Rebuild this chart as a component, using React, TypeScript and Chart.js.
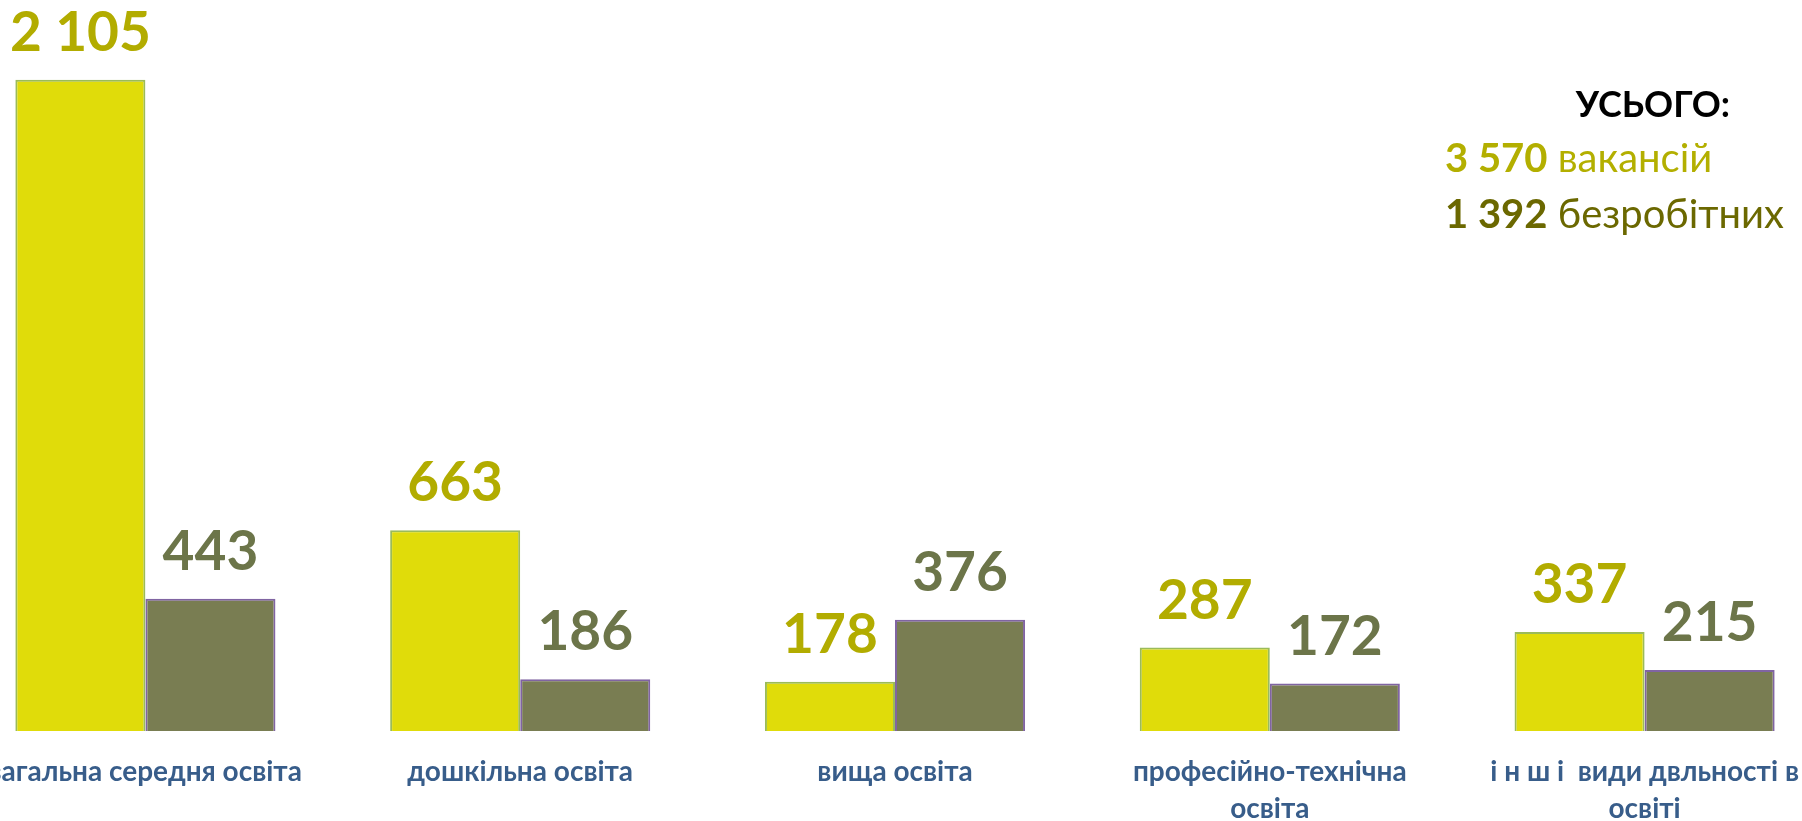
import React, { useEffect, useRef } from "react";
import { Chart, registerables } from "chart.js";

Chart.register(...registerables);

const categories: (string | string[])[] = [
  "загальна середня освіта",
  "дошкільна освіта",
  "вища освіта",
  ["професійно-технічна", "освіта"],
  ["і н ш і  види двльності в", "освіті"],
];
const vacancies = [2105, 663, 178, 287, 337];
const unemployed = [443, 186, 376, 172, 215];
const seriesNames = ["вакансій", "безробітних"];
const totalTitle = "УСЬОГО:";

const FONT = "Lato";
const FILLS = ["#E0DC0A", "#797D52"];
const BORDERS = ["#9BBB59", "#8064A2"];
const LABEL_COLORS = ["#B2AC00", "#6C7549"];
const TOTAL_COLORS = ["#B3AF00", "#6B6800"];

const fmt = (v: number) => String(v).replace(/\B(?=(\d{3})+(?!\d))/g, " ");
const sum = (a: number[]) => a.reduce((s, v) => s + v, 0);

const CANVAS_LEFT = -42;
const CANVAS_W = 1874;
const CANVAS_H = 821;

const valueLabels = {
  id: "valueLabels",
  afterDatasetsDraw(chart: any) {
    const ctx = chart.ctx;
    ctx.save();
    ctx.font = `bold 55px ${FONT}`;
    ctx.textAlign = "center";
    ctx.textBaseline = "alphabetic";
    chart.data.datasets.forEach((ds: any, di: number) => {
      const meta = chart.getDatasetMeta(di);
      ctx.fillStyle = LABEL_COLORS[di];
      meta.data.forEach((el: any, i: number) => {
        ctx.fillText(fmt(ds.data[i]), el.x, el.y - 29);
      });
    });
    ctx.restore();
  },
};

const totals = {
  id: "totals",
  afterDraw(chart: any) {
    const ctx = chart.ctx;
    const off = -CANVAS_LEFT;
    ctx.save();
    ctx.textBaseline = "alphabetic";
    ctx.textAlign = "right";
    ctx.fillStyle = "#000000";
    ctx.font = `bold 36px ${FONT}`;
    ctx.fillText(totalTitle, 1730 + off, 117);
    ctx.textAlign = "left";
    const rows = [sum(vacancies), sum(unemployed)];
    const baselines = [172, 228];
    rows.forEach((v, i) => {
      ctx.fillStyle = TOTAL_COLORS[i];
      ctx.font = `bold 40px ${FONT}`;
      const num = fmt(v);
      ctx.fillText(num, 1445 + off, baselines[i]);
      const w = ctx.measureText(num).width;
      ctx.font = `normal 40px ${FONT}`;
      ctx.fillText(" " + seriesNames[i], 1445 + off + w, baselines[i]);
    });
    ctx.restore();
  },
};

export default function App() {
  const ref = useRef<HTMLCanvasElement | null>(null);
  useEffect(() => {
    if (!ref.current) return;
    const chart = new Chart(ref.current, {
      type: "bar",
      data: {
        labels: categories,
        datasets: [vacancies, unemployed].map((d, i) => ({
          label: seriesNames[i],
          data: d,
          backgroundColor: FILLS[i],
          borderColor: BORDERS[i],
          borderWidth: 2,
          borderSkipped: false,
          categoryPercentage: 0.694,
          barPercentage: 1,
        })),
      },
      options: {
        animation: false,
        responsive: false,
        layout: { padding: { top: 50, left: 0, right: 0, bottom: 0 } },
        plugins: { legend: { display: false }, tooltip: { enabled: false } },
        scales: {
          x: {
            grid: { display: false },
            border: { display: false },
            ticks: {
              autoSkip: false,
              maxRotation: 0,
              minRotation: 0,
              padding: 15,
              color: "#385D8A",
              font: { family: FONT, weight: "bold", size: 28, lineHeight: 1.3 },
            },
            afterFit: (s: any) => {
              s.height = 90;
            },
          },
          y: { display: false, min: 20, max: 2200 },
        },
      } as any,
      plugins: [valueLabels, totals],
    });
    return () => chart.destroy();
  }, []);
  return (
    <div
      style={{
        position: "fixed",
        left: 0,
        top: 0,
        width: 1802,
        height: 821,
        overflow: "hidden",
        background: "#ffffff",
      }}
    >
      <canvas
        ref={ref}
        width={CANVAS_W}
        height={CANVAS_H}
        style={{ position: "absolute", left: CANVAS_LEFT, top: 0, width: CANVAS_W, height: CANVAS_H }}
      />
    </div>
  );
}
